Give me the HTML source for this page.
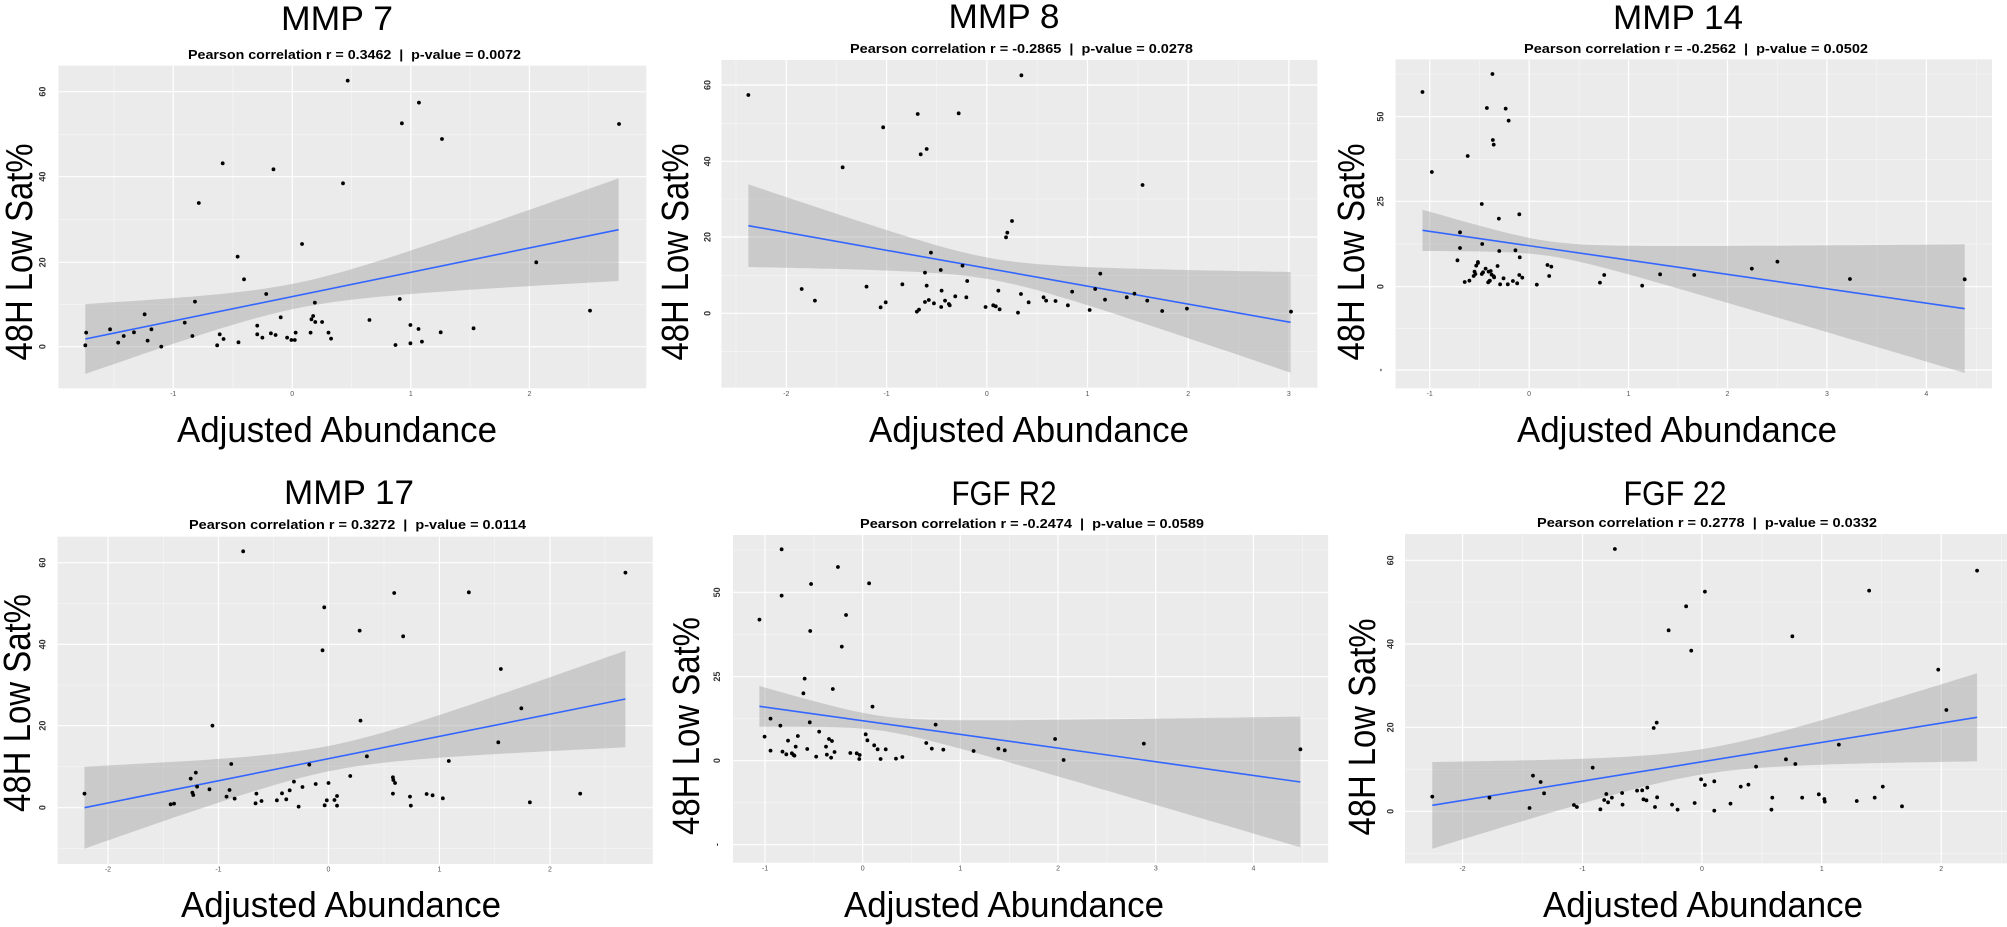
<!DOCTYPE html>
<html><head><meta charset="utf-8"><style>
html,body{margin:0;padding:0;background:#fff;width:2007px;height:927px;overflow:hidden}
svg{display:block}
.t{font-family:"Liberation Sans",sans-serif;fill:#000}
.sub{font-family:"Liberation Sans",sans-serif;font-weight:bold;font-size:13px}
.ttl{font-size:34px}
.yl{font-size:38px}
.xl{font-size:36px}
.yt{font-family:"Liberation Sans",sans-serif;font-weight:bold;font-size:9px;fill:#333}
.xt{font-family:"Liberation Sans",sans-serif;font-size:7px;fill:#555}
</style></head><body>
<svg id="s" width="2007" height="927" viewBox="0 0 2007 927" xmlns="http://www.w3.org/2000/svg">
<g id="plots"></g>
<text class="t ttl" x="337" y="30" text-anchor="middle" textLength="112" lengthAdjust="spacingAndGlyphs">MMP 7</text>
<text class="t ttl" x="1004" y="28" text-anchor="middle" textLength="111" lengthAdjust="spacingAndGlyphs">MMP 8</text>
<text class="t ttl" x="1678" y="29" text-anchor="middle" textLength="130" lengthAdjust="spacingAndGlyphs">MMP 14</text>
<text class="t ttl" x="349" y="504" text-anchor="middle" textLength="130" lengthAdjust="spacingAndGlyphs">MMP 17</text>
<text class="t ttl" x="1004" y="505" text-anchor="middle" textLength="105" lengthAdjust="spacingAndGlyphs">FGF R2</text>
<text class="t ttl" x="1675" y="505" text-anchor="middle" textLength="103" lengthAdjust="spacingAndGlyphs">FGF 22</text>
<text class="t sub" x="188" y="59" textLength="333" lengthAdjust="spacingAndGlyphs">Pearson correlation r = 0.3462 &#160;| &#160;p-value = 0.0072</text>
<text class="t sub" x="850" y="53" textLength="343" lengthAdjust="spacingAndGlyphs">Pearson correlation r = -0.2865 &#160;| &#160;p-value = 0.0278</text>
<text class="t sub" x="1524" y="53" textLength="344" lengthAdjust="spacingAndGlyphs">Pearson correlation r = -0.2562 &#160;| &#160;p-value = 0.0502</text>
<text class="t sub" x="189" y="529" textLength="337" lengthAdjust="spacingAndGlyphs">Pearson correlation r = 0.3272 &#160;| &#160;p-value = 0.0114</text>
<text class="t sub" x="860" y="528" textLength="344" lengthAdjust="spacingAndGlyphs">Pearson correlation r = -0.2474 &#160;| &#160;p-value = 0.0589</text>
<text class="t sub" x="1537" y="527" textLength="340" lengthAdjust="spacingAndGlyphs">Pearson correlation r = 0.2778 &#160;| &#160;p-value = 0.0332</text>
<text class="t yl" transform="translate(32,252) rotate(-90)" text-anchor="middle" textLength="217" lengthAdjust="spacingAndGlyphs">48H Low Sat%</text>
<text class="t yl" transform="translate(688,252) rotate(-90)" text-anchor="middle" textLength="217" lengthAdjust="spacingAndGlyphs">48H Low Sat%</text>
<text class="t yl" transform="translate(1364,252) rotate(-90)" text-anchor="middle" textLength="217" lengthAdjust="spacingAndGlyphs">48H Low Sat%</text>
<text class="t yl" transform="translate(30,703) rotate(-90)" text-anchor="middle" textLength="218" lengthAdjust="spacingAndGlyphs">48H Low Sat%</text>
<text class="t yl" transform="translate(699,726) rotate(-90)" text-anchor="middle" textLength="218" lengthAdjust="spacingAndGlyphs">48H Low Sat%</text>
<text class="t yl" transform="translate(1375,727) rotate(-90)" text-anchor="middle" textLength="217" lengthAdjust="spacingAndGlyphs">48H Low Sat%</text>
<text class="t xl" x="337" y="442" text-anchor="middle" textLength="320" lengthAdjust="spacingAndGlyphs">Adjusted Abundance</text>
<text class="t xl" x="1029" y="442" text-anchor="middle" textLength="320" lengthAdjust="spacingAndGlyphs">Adjusted Abundance</text>
<text class="t xl" x="1677" y="442" text-anchor="middle" textLength="320" lengthAdjust="spacingAndGlyphs">Adjusted Abundance</text>
<text class="t xl" x="341" y="917" text-anchor="middle" textLength="320" lengthAdjust="spacingAndGlyphs">Adjusted Abundance</text>
<text class="t xl" x="1004" y="917" text-anchor="middle" textLength="320" lengthAdjust="spacingAndGlyphs">Adjusted Abundance</text>
<text class="t xl" x="1703" y="917" text-anchor="middle" textLength="320" lengthAdjust="spacingAndGlyphs">Adjusted Abundance</text>
<g id="ticks"></g>
</svg>
<script>
var H=2.344,V=3;
var P=[
{ox:0,oy:0,r:[137,197,1515,1165],hM:[275,530,787,1040],hm:[403,658,913],yl:["60","40","20","0"],ytx:100,
 vM:[406,685,963,1241],vm:[267,546,824,1102,1380],xl:["-1","0","1","2"],xty:1188,
 ln:[200,1017,1450,689],hw:[105,154,38],
 pts:[[202,998],[200,1036],[258,988],[277,1028],[290,1008],[314,997],[339,943],[346,1022],[355,988],[378,1040],[433,968],[451,1008],[457,905],[466,609],[509,1036],[515,1003],[522,490],[524,1017],[557,770],[559,1027],[572,838],[603,977],[603,1003],[615,1013],[624,882],[635,1000],[641,508],[646,1005],[658,952],[673,1013],[683,1020],[691,1020],[693,998],[708,732],[728,998],[730,958],[734,948],[738,908],[739,966],[755,966],[770,998],[776,1016],[804,550],[815,242],[866,960],[927,1035],[937,897],[942,370],[962,975],[962,1030],[982,308],[981,987],[989,1025],[1033,997],[1036,417],[1110,985],[1257,787],[1383,932],[1451,372]]},
{ox:669,oy:0,r:[123,180,1520,1163],hM:[255,484,711,940],hm:[370,597,826,1054],yl:["60","40","20","0"],ytx:90,
 vM:[275,510,745,981,1217,1453],vm:[157,392,627,863,1099,1335],xl:["-2","-1","0","1","2","3"],xty:1188,
 ln:[186,677,1457,967],hw:[124,151,32],
 pts:[[186,285],[311,867],[342,902],[407,502],[463,860],[496,922],[502,382],[508,907],[547,853],[581,935],[583,342],[586,929],[590,463],[600,818],[600,906],[604,447],[604,857],[609,900],[614,758],[621,910],[637,810],[638,921],[639,872],[647,902],[656,912],[658,916],[671,889],[679,340],[688,797],[697,892],[699,843],[742,921],[760,916],[766,919],[772,872],[775,928],[790,712],[793,698],[804,663],[818,938],[826,226],[825,882],[843,907],[878,892],[884,902],[906,903],[935,916],[945,875],[986,930],[999,867],[1011,821],[1022,899],[1073,892],[1091,881],[1110,555],[1121,902],[1156,933],[1214,926],[1458,935]]},
{ox:1338,oy:0,r:[135,178,1533,1165],hM:[350,604,860,1110],hm:[222,478,732,985],yl:["50","25","0","-"],ytx:100,
 vM:[215,448,681,913,1146,1379],vm:[332,565,797,1030,1263,1496],xl:["-1","0","1","2","3","4"],xty:1188,
 ln:[198,691,1469,926],hw:[62,193,22],
 pts:[[198,276],[220,516],[286,697],[286,744],[280,781],[297,846],[304,468],[308,842],[318,828],[320,815],[322,822],[324,797],[328,789],[328,786],[337,612],[337,822],[338,732],[340,817],[346,806],[349,324],[352,847],[353,815],[355,843],[356,842],[358,813],[360,824],[362,222],[363,420],[365,829],[365,434],[366,832],[374,798],[377,656],[378,753],[380,853],[388,835],[393,326],[398,853],[400,362],[410,843],[416,751],[420,850],[425,643],[426,772],[425,825],[432,833],[466,854],[491,795],[495,828],[500,800],[614,848],[624,825],[713,857],[755,823],[835,825],[970,806],[1030,785],[1200,837],[1469,838]]},
{ox:0,oy:460,r:[135,230,1530,1212],hM:[308,553,797,1043],hm:[430,675,920,1166],yl:["60","40","20","0"],ytx:100,
 vM:[253,512,770,1030,1289],vm:[383,641,900,1159,1418],xl:["-2","-1","0","1","2"],xty:1235,
 ln:[198,1043,1466,717],hw:[123,145,38],
 pts:[[198,1001],[400,1033],[408,1031],[447,956],[451,998],[453,1005],[459,938],[462,980],[491,988],[498,797],[531,1010],[538,990],[542,912],[550,1016],[570,274],[599,1030],[601,1001],[613,1023],[649,1021],[661,1000],[671,1018],[679,991],[689,965],[700,1040],[709,981],[725,914],[740,972],[760,442],[756,571],[761,1036],[766,1021],[770,969],[784,1020],[790,1008],[790,1037],[821,948],[843,512],[845,782],[860,889],[921,952],[921,1001],[924,399],[922,960],[926,969],[945,529],[961,1010],[963,1037],[1000,1002],[1014,1006],[1038,1015],[1052,903],[1099,397],[1168,847],[1174,627],[1222,745],[1242,1027],[1360,1001],[1466,338]]},
{ox:669,oy:460,r:[150,225,1545,1208],hM:[397,650,902,1154],hm:[270,523,776,1028],yl:["50","25","0","-"],ytx:113,
 vM:[225,454,683,912,1141,1370],vm:[340,569,798,1027,1256,1485],xl:["-1","0","1","2","3","4"],xty:1231,
 ln:[212,739,1480,966],hw:[61,196,22],
 pts:[[212,479],[224,830],[238,872],[238,776],[261,797],[264,268],[264,407],[266,875],[275,883],[279,842],[288,880],[292,885],[294,887],[297,860],[302,828],[315,700],[318,656],[324,867],[330,787],[331,513],[333,372],[345,890],[352,815],[368,860],[370,884],[375,837],[380,893],[382,843],[384,687],[388,876],[396,321],[405,560],[415,465],[425,879],[440,880],[446,897],[447,885],[461,823],[465,841],[469,370],[477,740],[481,856],[489,868],[496,897],[508,868],[532,896],[547,891],[603,849],[616,866],[625,794],[643,869],[714,873],[772,866],[787,871],[905,837],[925,900],[1113,851],[1480,868]]},
{ox:1338,oy:460,r:[157,222,1568,1210],hM:[301,552,802,1054],hm:[426,677,928,1180],yl:["60","40","20","0"],ytx:123,
 vM:[292,573,853,1134,1414],vm:[432,713,994,1274,1555],xl:["-2","-1","0","1","2"],xty:1233,
 ln:[221,1036,1498,772],hw:[130,132,38],
 pts:[[221,1010],[355,1013],[449,1044],[457,947],[475,966],[483,1000],[553,1035],[560,1041],[597,923],[615,1048],[624,1020],[629,1002],[633,1027],[642,1013],[649,267],[666,999],[667,1034],[701,992],[713,991],[716,1018],[725,983],[723,1021],[740,804],[743,1041],[747,788],[748,1012],[775,511],[783,1034],[796,1049],[816,439],[828,572],[836,1029],[851,958],[860,395],[860,975],[882,1052],[882,964],[920,1031],[944,980],[962,974],[980,920],[1016,1049],[1018,1013],[1050,898],[1065,529],[1072,912],[1088,1013],[1127,1003],[1140,1017],[1141,1025],[1174,854],[1216,1023],[1245,392],[1258,1013],[1277,980],[1322,1039],[1407,629],[1426,750],[1498,332]]}
];
var NS="http://www.w3.org/2000/svg",G=document.getElementById("plots"),TK=document.getElementById("ticks");
function el(p,n,a){var e=document.createElementNS(NS,n);for(var k in a)e.setAttribute(k,a[k]);p.appendChild(e);return e;}
P.forEach(function(p){
 var X=function(x){return p.ox+x/H},Y=function(y){return p.oy+y/V};
 var r=p.r,x0=X(r[0]),y0=Y(r[1]),x1=Math.min(X(r[2]),2007),y1=Y(r[3]);
 el(G,"rect",{x:x0,y:y0,width:x1-x0,height:y1-y0,fill:"#ebebeb"});
 p.hm.forEach(function(y){el(G,"line",{x1:x0,x2:x1,y1:Y(y),y2:Y(y),stroke:"#f7f7f7","stroke-width":0.6})});
 p.vm.forEach(function(x){if(X(x)<x1)el(G,"line",{y1:y0,y2:y1,x1:X(x),x2:X(x),stroke:"#f7f7f7","stroke-width":0.6})});
 p.hM.forEach(function(y){el(G,"line",{x1:x0,x2:x1,y1:Y(y),y2:Y(y),stroke:"#fff","stroke-width":1.2})});
 p.vM.forEach(function(x){el(G,"line",{y1:y0,y2:y1,x1:X(x),x2:X(x),stroke:"#fff","stroke-width":1.2})});
 var l=p.ln,xL=l[0],yL=l[1],xR=l[2],yR=l[3],hL=p.hw[0],hR=p.hw[1],m=p.hw[2];
 var A=Math.sqrt(hL*hL-m*m),B=Math.sqrt(hR*hR-m*m),xc=xL+(xR-xL)*A/(A+B),k=A/(xc-xL);
 var up=[],lo=[];
 for(var i=0;i<=60;i++){var x=xL+(xR-xL)*i/60,yc=yL+(yR-yL)*(x-xL)/(xR-xL),h=Math.sqrt(m*m+k*k*(x-xc)*(x-xc));
  up.push(X(x).toFixed(1)+","+Y(yc-h).toFixed(1));lo.unshift(X(x).toFixed(1)+","+Y(yc+h).toFixed(1));}
 el(G,"polygon",{points:up.concat(lo).join(" "),fill:"#999","fill-opacity":0.4});
 el(G,"line",{x1:X(xL),y1:Y(yL),x2:X(xR),y2:Y(yR),stroke:"#3366ff","stroke-width":1.6});
 p.pts.forEach(function(q){el(G,"circle",{cx:X(q[0]),cy:Y(q[1]),r:1.9,fill:"#000"})});
 p.hM.forEach(function(y,i){var t=el(TK,"text",{"class":"yt",transform:"translate("+(X(p.ytx)+3)+","+Y(y)+") rotate(-90)","text-anchor":"middle"});t.textContent=p.yl[i];});
 p.vM.forEach(function(x,i){var t=el(TK,"text",{"class":"xt",x:X(x),y:Y(p.xty),"text-anchor":"middle"});t.textContent=p.xl[i];});
});
</script>
</body></html>
